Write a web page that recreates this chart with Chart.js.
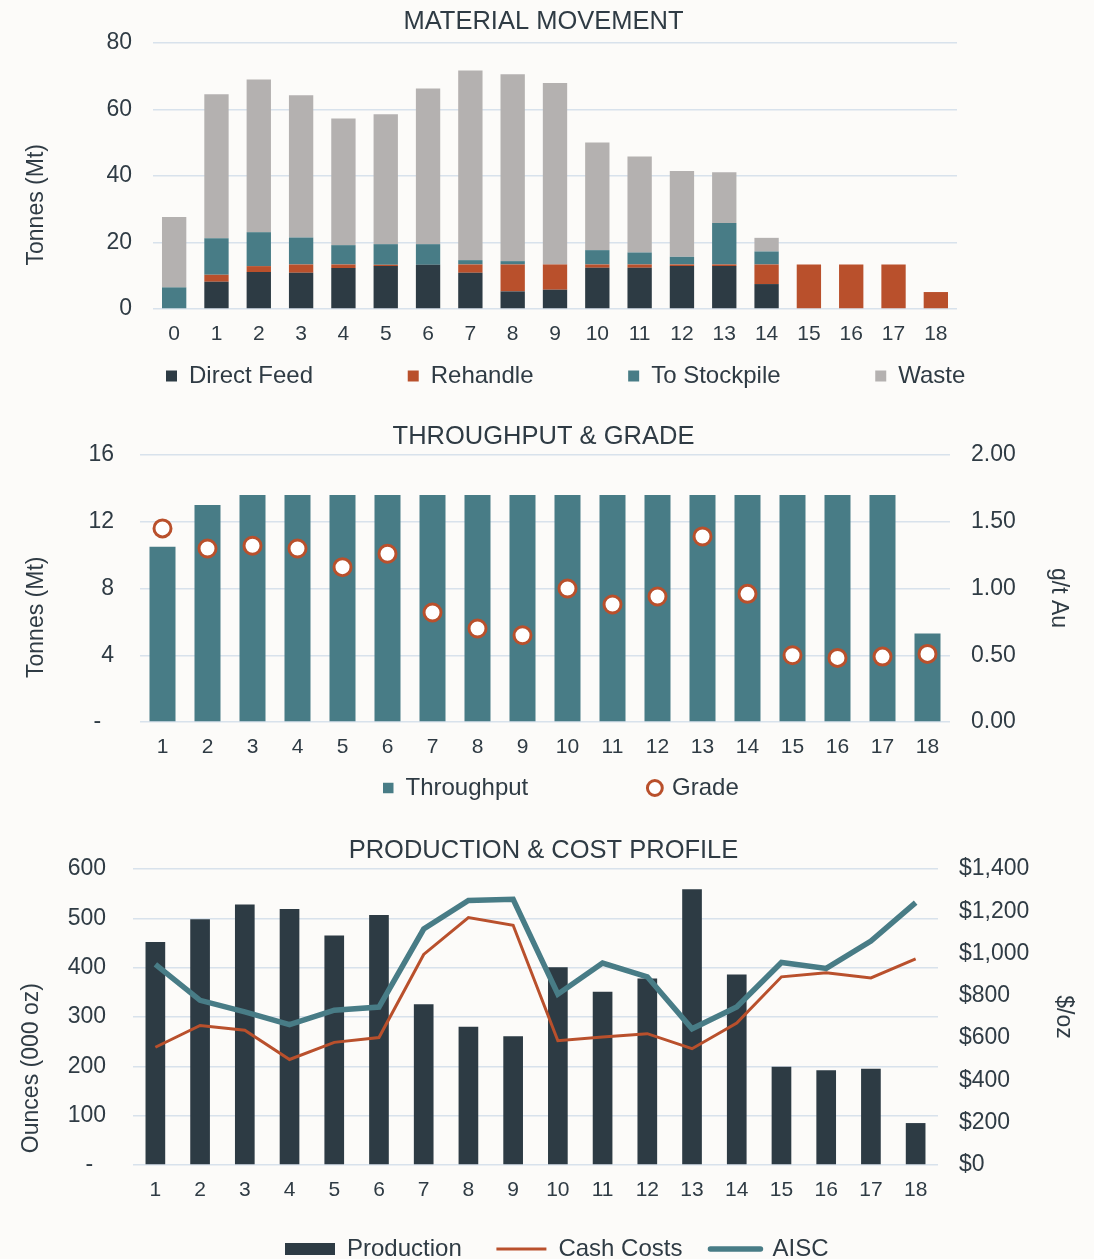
<!DOCTYPE html>
<html>
<head>
<meta charset="utf-8">
<script src="https://cdn.jsdelivr.net/npm/chart.js@4.4.1/dist/chart.umd.min.js"></script>
<style>
  html, body { margin: 0; padding: 0; background: #fcfbf9; }
  #wrap { position: relative; width: 1094px; height: 1259px; overflow: hidden; }
  canvas { position: absolute; left: 0; }
</style>
</head>
<body>
<div id="wrap">
  <canvas id="c1" width="1094" height="403" style="top:0px"></canvas>
  <canvas id="c2" width="1094" height="417" style="top:400px"></canvas>
  <canvas id="c3" width="1094" height="448" style="top:814px"></canvas>
</div>
<script>
// Material movement (Mt), years 0-18
const years0 = ['0','1','2','3','4','5','6','7','8','9','10','11','12','13','14','15','16','17','18'];
const directFeed = [0, 8.2, 11.1, 10.9, 12.3, 12.9, 13.3, 10.9, 5.3, 5.8, 12.4, 12.4, 12.9, 12.9, 7.5, 0, 0, 0, 0];
const rehandle   = [0, 2.1, 1.8, 2.5, 1.1, 0.4, 0, 2.5, 8.1, 7.6, 1.0, 1.0, 0.5, 0.5, 5.9, 13.4, 13.4, 13.4, 5.1];
const stockpile  = [6.5, 11.0, 10.2, 8.1, 5.8, 6.2, 6.2, 1.3, 1.0, 0, 4.3, 3.6, 2.3, 12.5, 3.9, 0, 0, 0, 0];
const waste      = [21.2, 43.3, 45.9, 42.8, 38.1, 39.1, 46.8, 57.0, 56.2, 54.6, 32.4, 28.9, 25.8, 15.2, 4.1, 0, 0, 0, 0];

// Throughput (Mt) and grade (g/t Au), years 1-18
const years1 = ['1','2','3','4','5','6','7','8','9','10','11','12','13','14','15','16','17','18'];
const throughput = [10.5, 13.0, 13.6, 13.6, 13.6, 13.6, 13.6, 13.6, 13.6, 13.6, 13.6, 13.6, 13.6, 13.6, 13.6, 13.6, 13.6, 5.3];
const grade = [1.45, 1.30, 1.32, 1.30, 1.16, 1.26, 0.82, 0.70, 0.65, 1.00, 0.88, 0.94, 1.39, 0.96, 0.50, 0.48, 0.49, 0.51];

// Production (000 oz) and costs ($/oz)
const production = [452, 498, 528, 519, 465, 507, 326, 280, 261, 401, 351, 378, 559, 386, 199, 192, 195, 85];
const cashCosts  = [557, 660, 637, 499, 580, 603, 996, 1170, 1134, 588, 605, 621, 550, 671, 890, 909, 885, 975];
const aisc       = [949, 779, 724, 664, 732, 747, 1116, 1251, 1257, 808, 955, 890, 644, 747, 958, 930, 1059, 1241];

const TEXT = '#2f3b44';
const GRID = '#d8e2ec';
const DARK = '#2d3b44';
const RUST = '#b9502c';
const TEAL = '#487c86';
const GREY = '#b4b1b0';

Chart.defaults.font.family = '"Liberation Sans", Arial, sans-serif';
Chart.defaults.color = TEXT;

// moves the legend box after layout so it sits where the original one does
const legendShift = {
  id: 'legendShift',
  afterLayout(chart, args, opts) {
    const lg = chart.legend;
    if (!lg) return;
    lg.left += opts.dx || 0; lg.right += opts.dx || 0;
    lg.top += opts.dy || 0; lg.bottom += opts.dy || 0;
  }
};

const pad = n => ' '.repeat(n);
const zeroDash = v => (v === 0 ? '-  ' : v);

function titleOpts(text, top, bottom) {
  return { display: true, text: text, color: TEXT, font: { size: 25.5, weight: 'normal' }, padding: { top: top, bottom: bottom } };
}
function xAxis(stacked) {
  return { stacked: stacked, grid: { display: false, drawTicks: false }, border: { display: false },
           ticks: { color: TEXT, font: { size: 21 }, padding: 13, maxRotation: 0, autoSkip: false } };
}

// ---- chart 1
new Chart(document.getElementById('c1'), {
  type: 'bar',
  data: {
    labels: years0,
    datasets: [
      { label: 'Direct Feed', data: directFeed, backgroundColor: DARK },
      { label: 'Rehandle', data: rehandle, backgroundColor: RUST },
      { label: 'To Stockpile', data: stockpile, backgroundColor: TEAL },
      { label: 'Waste', data: waste, backgroundColor: GREY }
    ]
  },
  options: {
    responsive: false, animation: false,
    layout: { padding: { left: 0, right: 7, top: 0, bottom: 0.8 } },
    datasets: { bar: { barPercentage: 0.575, categoryPercentage: 1 } },
    scales: {
      x: xAxis(true),
      y: {
        stacked: true, min: 0, max: 80,
        ticks: { stepSize: 20, color: TEXT, font: { size: 23 }, padding: 21 },
        grid: { color: GRID, lineWidth: 1.5, drawTicks: false }, border: { display: false },
        title: { display: true, text: 'Tonnes (Mt)' + pad(9), color: TEXT, font: { size: 23 }, padding: { top: 23, bottom: 0 } },
        afterFit: s => { s.width = 153; }
      },
      y2: {
        position: 'right', display: true, grid: { display: false }, border: { display: false },
        ticks: { display: false }, afterFit: s => { s.width = 130; }
      }
    },
    plugins: {
      title: titleOpts('MATERIAL MOVEMENT', 6.7, 5.7),
      tooltip: { enabled: false },
      legend: {
        position: 'bottom', align: 'start',
        labels: {
          color: TEXT, font: { size: 24 }, boxWidth: 11, boxHeight: 11, padding: 8,
          generateLabels: chart => Chart.defaults.plugins.legend.labels.generateLabels(chart)
            .map((it, i, arr) => Object.assign(it, { lineWidth: 0, text: i < arr.length - 1 ? it.text + pad(13) : it.text }))
        }
      },
      legendShift: { dx: 158, dy: -4.2 }
    }
  },
  plugins: [legendShift]
});

// ---- chart 2
new Chart(document.getElementById('c2'), {
  data: {
    labels: years1,
    datasets: [
      { type: 'line', label: 'Grade', data: grade, yAxisID: 'y2', showLine: false, order: 0,
        pointRadius: 8.5, pointHoverRadius: 8.5, pointBorderWidth: 3,
        pointBackgroundColor: '#ffffff', pointBorderColor: RUST },
      { type: 'bar', label: 'Throughput', data: throughput, yAxisID: 'y', order: 1,
        backgroundColor: TEAL, barPercentage: 0.578, categoryPercentage: 1 }
    ]
  },
  options: {
    responsive: false, animation: false,
    layout: { padding: { left: 0, right: 7, top: 0, bottom: 1.8 } },
    scales: {
      x: xAxis(false),
      y: {
        min: 0, max: 16,
        ticks: { stepSize: 4, color: TEXT, font: { size: 23 }, padding: 26, callback: zeroDash },
        grid: { color: GRID, lineWidth: 1.5, drawTicks: false }, border: { display: false },
        title: { display: true, text: 'Tonnes (Mt)' + pad(9), color: TEXT, font: { size: 23 }, padding: { top: 23, bottom: 0 } },
        afterFit: s => { s.width = 140; }
      },
      y2: {
        position: 'right', min: 0, max: 2,
        ticks: { stepSize: 0.5, color: TEXT, font: { size: 23 }, padding: 21, callback: v => v.toFixed(2) },
        grid: { drawOnChartArea: false, drawTicks: false }, border: { display: false },
        title: { display: true, text: pad(3) + 'g/t Au', color: TEXT, font: { size: 23 }, padding: { top: 15.2, bottom: 0 } },
        afterFit: s => { s.width = 137; }
      }
    },
    plugins: {
      title: titleOpts('THROUGHPUT & GRADE', 21.7, 2.7),
      tooltip: { enabled: false },
      legend: {
        position: 'bottom', align: 'start',
        labels: {
          color: TEXT, font: { size: 24 }, usePointStyle: true, boxWidth: 10.5, boxHeight: 10.5, padding: 8,
          generateLabels: () => [
            { text: 'Throughput' + pad(17), pointStyle: 'rect', fillStyle: TEAL, strokeStyle: TEAL, lineWidth: 0, fontColor: TEXT, datasetIndex: 1 },
            { text: 'Grade', pointStyle: 'circle', fillStyle: '#ffffff', strokeStyle: RUST, lineWidth: 3, fontColor: TEXT, datasetIndex: 0 }
          ]
        }
      },
      legendShift: { dx: 375, dy: -5.2 }
    }
  },
  plugins: [legendShift]
});

// ---- chart 3
new Chart(document.getElementById('c3'), {
  data: {
    labels: years1,
    datasets: [
      { type: 'line', label: 'AISC', data: aisc, yAxisID: 'y2', order: 0,
        borderColor: TEAL, borderWidth: 5.5, pointRadius: 0, pointHoverRadius: 0, tension: 0 },
      { type: 'line', label: 'Cash Costs', data: cashCosts, yAxisID: 'y2', order: 1,
        borderColor: RUST, borderWidth: 3, pointRadius: 0, pointHoverRadius: 0, tension: 0 },
      { type: 'bar', label: 'Production', data: production, yAxisID: 'y', order: 2,
        backgroundColor: DARK, barPercentage: 0.44, categoryPercentage: 1 }
    ]
  },
  options: {
    responsive: false, animation: false,
    layout: { padding: { left: 0, right: 7, top: 0, bottom: 3.8 } },
    scales: {
      x: xAxis(false),
      y: {
        min: 0, max: 600,
        ticks: { stepSize: 100, color: TEXT, font: { size: 23 }, padding: 27, callback: zeroDash },
        grid: { color: GRID, lineWidth: 1.5, drawTicks: false }, border: { display: false },
        title: { display: true, text: 'Ounces (000 oz)' + pad(16), color: TEXT, font: { size: 23 }, padding: { top: 18, bottom: 0 } },
        afterFit: s => { s.width = 133; }
      },
      y2: {
        position: 'right', min: 0, max: 1400,
        ticks: { stepSize: 200, color: TEXT, font: { size: 23 }, padding: 21, callback: v => '$' + v.toLocaleString('en-US') },
        grid: { drawOnChartArea: false, drawTicks: false }, border: { display: false },
        title: { display: true, text: '$/oz', color: TEXT, font: { size: 23 }, padding: { top: 10.2, bottom: 0 } },
        afterFit: s => { s.width = 149; }
      }
    },
    plugins: {
      title: titleOpts('PRODUCTION & COST PROFILE', 21.7, 2.7),
      tooltip: { enabled: false },
      legend: {
        position: 'bottom', align: 'start',
        labels: {
          color: TEXT, font: { size: 24 }, usePointStyle: true, pointStyleWidth: 50, boxHeight: 12, padding: 8,
          generateLabels: () => [
            { text: 'Production' + pad(4), pointStyle: 'rect', fillStyle: DARK, strokeStyle: DARK, lineWidth: 0, fontColor: TEXT, datasetIndex: 2 },
            { text: 'Cash Costs' + pad(3), pointStyle: 'line', fillStyle: RUST, strokeStyle: RUST, lineWidth: 3, fontColor: TEXT, datasetIndex: 1 },
            { text: 'AISC', pointStyle: 'line', fillStyle: TEAL, strokeStyle: TEAL, lineWidth: 5.5, lineCap: 'round', fontColor: TEXT, datasetIndex: 0 }
          ]
        }
      },
      legendShift: { dx: 277, dy: 12.8 }
    }
  },
  plugins: [legendShift]
});
</script>
</body>
</html>
